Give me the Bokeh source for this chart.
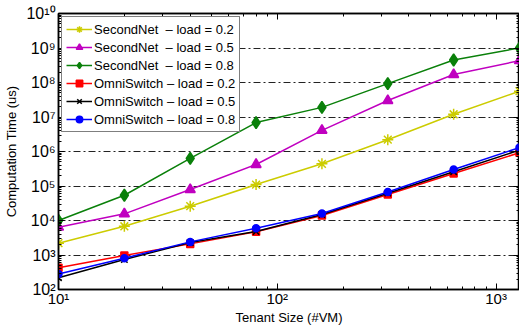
from bokeh.plotting import figure
from bokeh.models import (Range1d, FixedTicker, CustomJSTickFormatter, Legend, LegendItem, LogAxis)
from bokeh.embed import file_html
from bokeh.resources import INLINE

tenant_size = [10, 20, 40, 80, 160, 320, 640, 1280]

secondnet_02 = [2.2e3, 6.8e3, 2.6e4, 1.1e5, 4.4e5, 2.2e6, 1.2e7, 5.6e7]
secondnet_05 = [6.4e3, 1.56e4, 7.9e4, 4.2e5, 4.1e6, 3.0e7, 1.7e8, 4.3e8]
secondnet_08 = [1.0e4, 5.4e4, 6.3e5, 6.9e6, 1.9e7, 9.3e7, 4.5e8, 1.0e9]
omni_02 = [4.3e2, 9.7e2, 2.1e3, 4.7e3, 1.4e4, 5.7e4, 2.3e5, 9.2e5]
omni_05 = [2.2e2, 7.4e2, 2.3e3, 4.8e3, 1.5e4, 6.2e4, 2.6e5, 1.1e6]
omni_08 = [2.8e2, 8.1e2, 2.4e3, 6.0e3, 1.6e4, 6.7e4, 3.0e5, 1.3e6]

labels = ["SecondNet\u00a0 \u2013 load = 0.2", "SecondNet\u00a0 \u2013 load = 0.5", "SecondNet\u00a0 \u2013 load = 0.8",
          "OmniSwitch \u2013 load = 0.2", "OmniSwitch \u2013 load = 0.5", "OmniSwitch \u2013 load = 0.8"]

x_major = [10, 100, 1000]
y_major = [10.0 ** k for k in range(2, 11)]

FONT = "Liberation Sans"

p = figure(width=519, height=327, x_axis_type="log", y_axis_type="log",
           x_range=Range1d(10, 1280), y_range=Range1d(1e2, 1e10),
           output_backend="svg", toolbar_location=None,
           min_border_left=58, min_border_top=13, min_border_right=0, min_border_bottom=0)

x_minor = [m * 10.0 ** k for k in range(1, 4) for m in range(2, 10)]
y_minor = [m * 10.0 ** k for k in range(2, 10) for m in range(2, 10)]

fmt_code = """
const sup = {'0':'\u2070','1':'\u00b9','2':'\u00b2','3':'\u00b3','4':'\u2074','5':'\u2075','6':'\u2076','7':'\u2077','8':'\u2078','9':'\u2079'};
const e = Math.round(Math.log10(tick));
return '10' + String(e).split('').map(c => sup[c]).join('');
"""

for ax, t in ((p.xaxis[0], FixedTicker(ticks=x_major, minor_ticks=x_minor)),
              (p.yaxis[0], FixedTicker(ticks=y_major, minor_ticks=y_minor))):
    ax.ticker = t
    ax.formatter = CustomJSTickFormatter(code=fmt_code)
    ax.major_tick_in = 6
    ax.major_tick_out = 0
    ax.minor_tick_in = 3
    ax.minor_tick_out = 0
    ax.axis_line_width = 1.5
    ax.axis_line_color = "black"
    ax.major_label_text_font = FONT
    ax.major_label_text_font_size = "16px"
    ax.major_label_text_color = "black"
    ax.axis_label_text_font = FONT
    ax.axis_label_text_font_size = "13px"
    ax.axis_label_text_font_style = "normal"
    ax.axis_label_text_color = "black"

p.xaxis[0].axis_label = "Tenant Size (#VM)"
p.yaxis[0].axis_label = "Computation Time (us)"
p.xaxis[0].major_label_text_font_size = "15px"
p.xaxis[0].major_label_standoff = 0
p.xaxis[0].axis_label_standoff = 0
p.yaxis[0].major_label_standoff = 3
p.yaxis[0].axis_label_standoff = 4

# mirrored box ticks
top = LogAxis(ticker=FixedTicker(ticks=x_major, minor_ticks=x_minor),
              formatter=CustomJSTickFormatter(code="return ' ';"),
              major_label_text_font_size="1px", major_label_text_alpha=0,
              major_tick_in=6, major_tick_out=0, minor_tick_in=3, minor_tick_out=0,
              major_label_standoff=0, axis_line_width=1.5)
right = LogAxis(ticker=FixedTicker(ticks=y_major, minor_ticks=y_minor),
                formatter=CustomJSTickFormatter(code="return ' ';"),
                major_label_text_font_size="1px", major_label_text_alpha=0,
                major_tick_in=6, major_tick_out=0, minor_tick_in=3, minor_tick_out=0,
                major_label_standoff=0, axis_line_width=1.5)
p.add_layout(top, "above")
p.add_layout(right, "right")

p.xgrid.visible = False
p.ygrid.ticker = FixedTicker(ticks=y_major[1:-1])
p.ygrid.grid_line_color = "#222222"
p.ygrid.grid_line_dash = "7 3 2 3"
p.ygrid.grid_line_width = 1
p.outline_line_color = "black"
p.outline_line_width = 1.5

series = [
    (secondnet_02, "#cccc00", "asterisk", 11, True),
    (secondnet_05, "#c000c0", "triangle", 10, True),
    (secondnet_08, "#0a800a", "diamond", 12, True),
    (omni_02, "#ff0000", "square", 7, True),
    (omni_05, "#000000", "x", 9, False),
    (omni_08, "#0000ff", "circle", 7, True),
]

items = []
for (ys, color, marker, size, filled), lab in zip(series, labels):
    r1 = p.line(tenant_size, ys, line_color=color, line_width=1.5)
    r2 = p.scatter(tenant_size, ys, marker=marker, size=size, line_color=color,
                   fill_color=color if filled else None, line_width=1.5)
    items.append(LegendItem(label=lab, renderers=[r1, r2]))

legend = Legend(items=items, location="top_left")
legend.label_text_font = FONT
legend.label_text_font_size = "13px"
legend.label_text_color = "black"
legend.glyph_width = 26
legend.glyph_height = 16
legend.label_height = 16
legend.spacing = 2
legend.padding = 4
legend.margin = 3
legend.label_standoff = 2
legend.border_line_color = "black"
legend.border_line_width = 1.5
legend.background_fill_alpha = 1
p.add_layout(legend, "center")

open("out.html", "w").write(file_html(p, INLINE))
